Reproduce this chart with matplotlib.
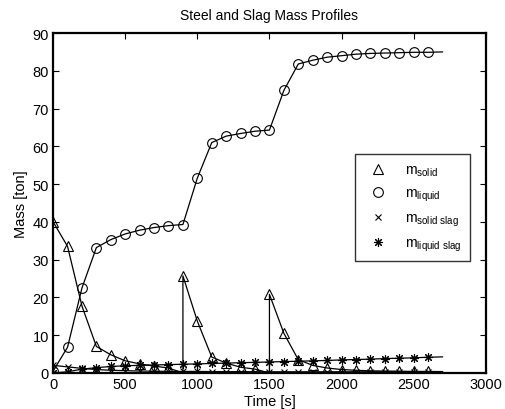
import matplotlib
matplotlib.use("Agg")
import matplotlib.pyplot as plt

plt.rcParams['font.family'] = ['Liberation Sans', 'DejaVu Sans']

# Time grid (s); 900 and 1500 appear twice: before and after a scrap charge
time = [0, 100, 200, 300, 400, 500, 600, 700, 800, 900, 900, 1000, 1100, 1200,
        1300, 1400, 1500, 1500, 1600, 1700, 1800, 1900, 2000, 2100, 2200, 2300,
        2400, 2500, 2600, 2700]

m_solid = [40.0, 33.5, 17.7, 7.0, 4.8, 3.2, 2.4, 1.8, 1.3, 0.0, 25.7, 13.7, 4.2, 2.6,
           1.5, 1.0, 0.0, 20.8, 10.5, 3.5, 2.0, 1.3, 0.9, 0.7, 0.55, 0.5,
           0.45, 0.4, 0.4, 0.35]

m_liquid = [0.5, 6.8, 22.5, 33.2, 35.3, 36.8, 37.8, 38.5, 39.0, 39.3, 39.3, 51.6, 61.0, 62.7,
            63.4, 64.0, 64.3, 64.3, 74.8, 81.8, 82.8, 83.6, 84.0, 84.4, 84.6, 84.7,
            84.8, 84.9, 84.9, 85.0]

m_solid_slag = [2.0, 1.6, 1.2, 0.9, 0.7, 0.6, 0.5, 0.45, 0.4, 0.4, 0.4, 0.4, 0.35, 0.35,
                0.35, 0.3, 0.3, 0.3, 0.3, 0.3, 0.3, 0.3, 0.3, 0.3, 0.3, 0.3,
                0.3, 0.3, 0.3, 0.3]

m_liquid_slag = [0.0, 0.3, 1.0, 1.4, 1.7, 1.9, 2.0, 2.1, 2.2, 2.3, 2.3, 2.4, 2.5, 2.6,
                 2.7, 2.8, 2.9, 2.9, 3.0, 3.1, 3.2, 3.3, 3.45, 3.55, 3.65, 3.8,
                 3.9, 4.0, 4.15, 4.25]

labels = [r'm$_\mathregular{solid}$', r'm$_\mathregular{liquid}$',
          r'm$_\mathregular{solid\ slag}$', r'm$_\mathregular{liquid\ slag}$']

# markers only on the regular 100 s samples (skip the duplicate points and the last one)
mark_idx = [i for i in range(len(time) - 1) if i not in (9, 16)]

fig = plt.figure(figsize=(5.06, 4.10), dpi=100)
ax = fig.add_axes([0.105, 0.088, 0.855, 0.829])

series = [m_solid, m_liquid, m_solid_slag, m_liquid_slag]
markers = ['^', 'o', 'x', (8, 2, 0)]
sizes = [7.5, 7, 5, 6.5]
handles = []
for vals, mk, ms, lab in zip(series, markers, sizes, labels):
    ax.plot(time, vals, color='black', lw=0.9, zorder=2)
    h, = ax.plot([time[i] for i in mark_idx], [vals[i] for i in mark_idx],
                 linestyle='none', marker=mk, ms=ms, mfc='none', mec='black',
                 mew=0.8, label=lab, zorder=3)
    handles.append(h)

ax.set_xlim(0, 3000)
ax.set_ylim(0, 90)
ax.set_xticks(range(0, 3001, 500))
ax.set_yticks(range(0, 91, 10))
ax.tick_params(direction='in', top=True, right=True, labelsize=10.5, length=4,
               width=0.8, pad=3)
for sp in ax.spines.values():
    sp.set_linewidth(1.6)

ax.set_xlabel('Time [s]', fontsize=10.5, labelpad=2)
ax.set_ylabel('Mass [ton]', fontsize=10.5, labelpad=3)
ax.set_title('Steel and Slag Mass Profiles', fontsize=10, pad=10)

leg = ax.legend(handles=handles, loc='upper left', bbox_to_anchor=(0.697, 0.644),
                borderaxespad=0, fontsize=10, frameon=True, fancybox=False,
                edgecolor='black', labelspacing=0.55, handlelength=2.2,
                borderpad=0.6, handletextpad=0.8)
leg.get_frame().set_linewidth(1.0)

fig.savefig('out.png', dpi=100)
